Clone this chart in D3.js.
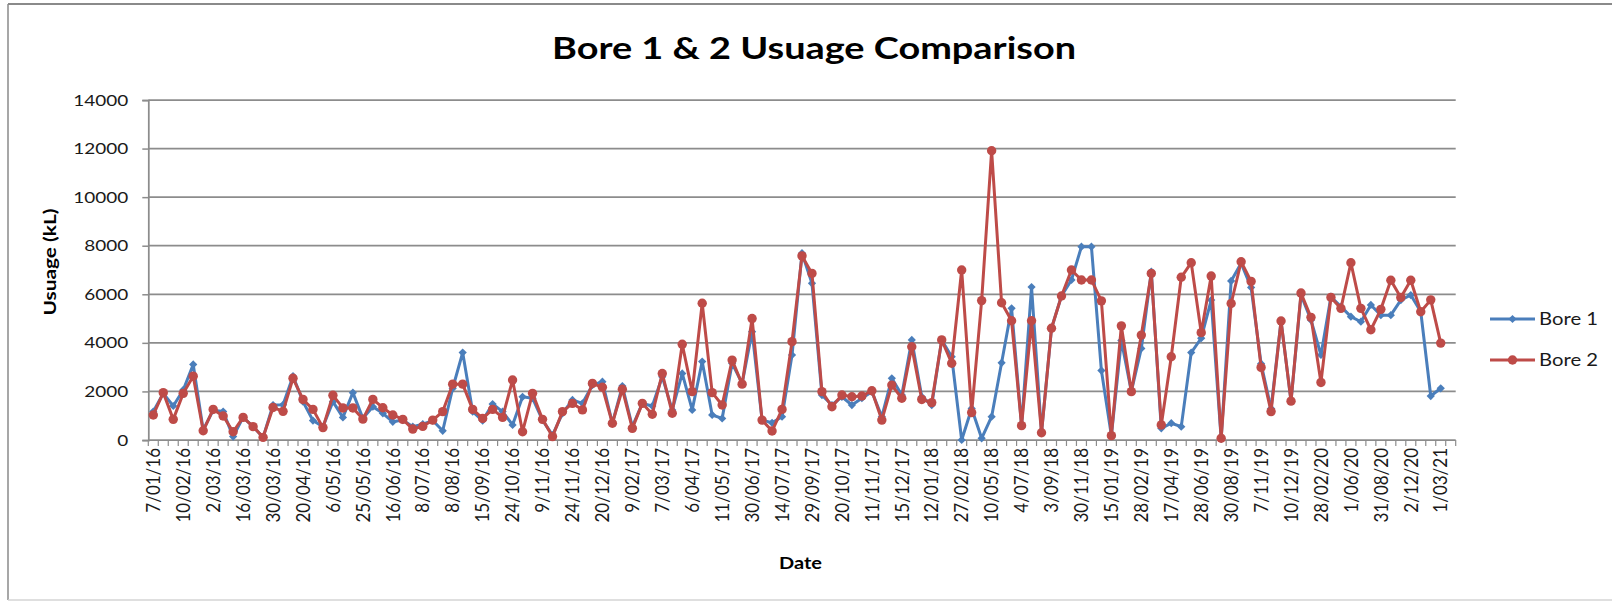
<!DOCTYPE html>
<html>
<head>
<meta charset="utf-8">
<script src="https://cdn.jsdelivr.net/npm/d3@7"></script>
<style>
  html, body { margin: 0; padding: 0; background: #fff; }
  svg { display: block; font-family: Lato, "Open Sans", sans-serif; }
</style>
</head>
<body>
<svg id="chart" width="1612" height="603"></svg>
<script>
// Usage per reading (kL). The final row is an empty date slot with no reading.
const bore1 = [
  1170, 1920, 1400, 2060, 3110, 410, 1230, 1170, 140, 930,
  550, 110, 1440, 1450, 2630, 1580, 800, 550, 1580, 930,
  1950, 890, 1370, 1100, 750, 820, 550, 650, 800, 380,
  2130, 3600, 1170, 800, 1480, 1170, 620, 1780, 1720, 820,
  200, 1100, 1650, 1510, 2260, 2400, 690, 2220, 550, 1510,
  1400, 2600, 1240, 2740, 1240, 3230, 1030, 890, 3160, 2330,
  4460, 820, 710, 960, 3500, 7690, 6450, 1850, 1440, 1780,
  1440, 1720, 1990, 960, 2540, 1850, 4120, 1780, 1440, 4120,
  3430, 0, 1300, 70, 960, 3180, 5420, 590, 6300, 300,
  4600, 5930, 6590, 7960, 7960, 2860, 180, 4100, 2000, 3770,
  6930, 480, 690, 550, 3600, 4190, 5760, 50, 6550, 7280,
  6280, 3140, 1300, 4900, 1600, 5970, 4940, 3500, 5900, 5490,
  5080, 4870, 5560, 5140, 5140, 5760, 5970, 5280, 1810, 2130,
  null
];
const bore2 = [
  1030, 1950, 850, 1920, 2630, 380, 1260, 990, 340, 930,
  550, 110, 1340, 1180, 2540, 1670, 1260, 510, 1840, 1320,
  1320, 860, 1670, 1330, 1030, 850, 450, 560, 820, 1170,
  2300, 2300, 1260, 890, 1260, 930, 2470, 340, 1920, 850,
  140, 1170, 1510, 1240, 2330, 2170, 690, 2090, 480, 1510,
  1060, 2740, 1100, 3940, 1990, 5630, 1950, 1440, 3290, 2300,
  5000, 820, 370, 1260, 4050, 7580, 6860, 1990, 1370, 1850,
  1780, 1810, 2030, 820, 2260, 1720, 3840, 1670, 1540, 4120,
  3160, 7000, 1130, 5740, 11910, 5650, 4910, 590, 4910, 300,
  4600, 5930, 7000, 6590, 6590, 5730, 180, 4700, 1990, 4320,
  6860, 620, 3430, 6700, 7300, 4420, 6750, 70, 5620, 7340,
  6530, 2990, 1170, 4900, 1600, 6050, 5050, 2370, 5870, 5420,
  7300, 5420, 4540, 5380, 6580, 5870, 6580, 5280, 5770, 3990,
  null
];
// Date labels shown under every third category
const tickLabels = [
  "7/01/16", "10/02/16", "2/03/16", "16/03/16", "30/03/16", "20/04/16", "6/05/16",
  "25/05/16", "16/06/16", "8/07/16", "8/08/16", "15/09/16", "24/10/16", "9/11/16",
  "24/11/16", "20/12/16", "9/02/17", "7/03/17", "6/04/17", "11/05/17", "30/06/17",
  "14/07/17", "29/09/17", "20/10/17", "11/11/17", "15/12/17", "12/01/18", "27/02/18",
  "10/05/18", "4/07/18", "3/09/18", "30/11/18", "15/01/19", "28/02/19", "17/04/19",
  "28/06/19", "30/08/19", "7/11/19", "10/12/19", "28/02/20", "1/06/20", "31/08/20",
  "2/12/20", "1/03/21"
];
const labelStep = 3;
const yTicks = [0, 2000, 4000, 6000, 8000, 10000, 12000, 14000];
const seriesNames = ["Bore 1", "Bore 2"];

const colors = { "Bore 1": "#4A7EBB", "Bore 2": "#BE4B48" };
const gridColor = "#8c8c8c";
const textColor = "#1a1a1a";

const svg = d3.select("#chart");
const plot = { left: 148.3, right: 1455.7, top: 100, bottom: 440 };

// Chart frame
svg.append("line").attr("x1", 8).attr("x2", 1612).attr("y1", 4).attr("y2", 4)
  .attr("stroke", "#8a8a8a").attr("stroke-width", 2);
svg.append("line").attr("x1", 8).attr("x2", 8).attr("y1", 4).attr("y2", 600)
  .attr("stroke", "#8a8a8a").attr("stroke-width", 1.5);
svg.append("line").attr("x1", 8).attr("x2", 1612).attr("y1", 600).attr("y2", 600)
  .attr("stroke", "#d4d4d4").attr("stroke-width", 1.5);

const x = d3.scaleBand()
  .domain(d3.range(bore1.length))
  .range([plot.left, plot.right])
  .padding(0);
const cx = i => x(i) + x.bandwidth() / 2;

const y = d3.scaleLinear().domain([0, 14000]).range([plot.bottom, plot.top]);

// Horizontal gridlines
svg.append("g").selectAll("line")
  .data(yTicks.filter(v => v > 0))
  .join("line")
  .attr("x1", plot.left).attr("x2", plot.right)
  .attr("y1", d => y(d)).attr("y2", d => y(d))
  .attr("stroke", gridColor).attr("stroke-width", 1.75);

// Y axis
const yAxis = svg.append("g")
  .attr("transform", `translate(${plot.left},0)`)
  .call(d3.axisLeft(y).tickValues(yTicks).tickSize(6).tickPadding(14).tickFormat(d => String(d)));
yAxis.select(".domain").attr("stroke", gridColor).attr("stroke-width", 1.75);
yAxis.selectAll(".tick line").attr("stroke", gridColor).attr("stroke-width", 1.5);
yAxis.selectAll(".tick text")
  .attr("fill", textColor)
  .style("font-size", "16px")
  .style("font-family", "Lato, sans-serif")
  .attr("textLength", d => String(d).length * 11)
  .attr("lengthAdjust", "spacingAndGlyphs");

// X axis: baseline, category boundary ticks, rotated date labels
svg.append("line")
  .attr("x1", plot.left).attr("x2", plot.right)
  .attr("y1", plot.bottom).attr("y2", plot.bottom)
  .attr("stroke", gridColor).attr("stroke-width", 1.75);
const boundaries = d3.range(bore1.length + 1).map(i => plot.left + i * x.step());
svg.append("g").selectAll("line")
  .data(boundaries)
  .join("line")
  .attr("x1", d => d).attr("x2", d => d)
  .attr("y1", plot.bottom).attr("y2", plot.bottom + 6)
  .attr("stroke", gridColor).attr("stroke-width", 1.2);

const labelIdx = tickLabels.map((_, j) => j * labelStep);
const xAxis = svg.append("g")
  .attr("transform", `translate(0,${plot.bottom})`)
  .call(d3.axisBottom(x).tickValues(labelIdx).tickSize(0)
    .tickFormat(i => tickLabels[i / labelStep]));
xAxis.select(".domain").remove();
xAxis.selectAll(".tick text")
  .attr("fill", textColor)
  .style("font-size", "17px")
  .style("font-family", "Lato, sans-serif")
  .attr("text-anchor", "end")
  .attr("transform", "rotate(-90) scale(1,1.1)")
  .attr("x", -8)
  .attr("y", 0)
  .attr("dy", "0.36em");

// Series lines and markers
const series = [
  { name: "Bore 1", values: bore1 },
  { name: "Bore 2", values: bore2 }
];
const line = d3.line()
  .defined(d => d != null)
  .x((d, i) => cx(i))
  .y(d => y(d));

const diamond = d3.symbol().type(d3.symbolSquare).size(34);

function drawMarkers(g, name, pts) {
  if (name === "Bore 1") {
    g.selectAll("path.m").data(pts).join("path")
      .attr("class", "m")
      .attr("d", diamond)
      .attr("transform", p => `translate(${p[0]},${p[1]}) rotate(45)`)
      .attr("fill", colors[name]);
  } else {
    g.selectAll("circle.m").data(pts).join("circle")
      .attr("class", "m")
      .attr("cx", p => p[0]).attr("cy", p => p[1]).attr("r", 4.7)
      .attr("fill", colors[name]);
  }
}

series.forEach(s => {
  const g = svg.append("g");
  g.append("path")
    .datum(s.values)
    .attr("d", line)
    .attr("fill", "none")
    .attr("stroke", colors[s.name])
    .attr("stroke-width", 3)
    .attr("stroke-linejoin", "round")
    .attr("stroke-linecap", "round");
  const pts = s.values.map((v, i) => v == null ? null : [cx(i), y(v)]).filter(p => p);
  drawMarkers(g, s.name, pts);
});

// Title
svg.append("text")
  .attr("x", 552).attr("y", 59)
  .attr("fill", "#000")
  .style("font-size", "31px").style("font-weight", "bold")
  .attr("textLength", 524).attr("lengthAdjust", "spacingAndGlyphs")
  .text("Bore 1 & 2 Usuage Comparison");

// Axis titles
svg.append("text")
  .attr("transform", "translate(56,262) rotate(-90)")
  .attr("text-anchor", "middle")
  .attr("fill", "#000")
  .style("font-size", "17px").style("font-weight", "bold")
  .attr("textLength", 107).attr("lengthAdjust", "spacingAndGlyphs")
  .text("Usuage (kL)");

svg.append("text")
  .attr("x", 779).attr("y", 569)
  .attr("fill", "#000")
  .style("font-size", "17px").style("font-weight", "bold")
  .attr("textLength", 43).attr("lengthAdjust", "spacingAndGlyphs")
  .text("Date");

// Legend
const legend = svg.append("g");
seriesNames.forEach((name, i) => {
  const ly = 319 + i * 41;
  const g = legend.append("g");
  g.append("line")
    .attr("x1", 1490).attr("x2", 1535).attr("y1", ly).attr("y2", ly)
    .attr("stroke", colors[name]).attr("stroke-width", 3);
  drawMarkers(g, name, [[1512.5, ly]]);
  g.append("text")
    .attr("x", 1539).attr("y", ly + 6)
    .attr("fill", textColor)
    .style("font-size", "17px")
    .attr("textLength", 59).attr("lengthAdjust", "spacingAndGlyphs")
    .text(name);
});
</script>
</body>
</html>
